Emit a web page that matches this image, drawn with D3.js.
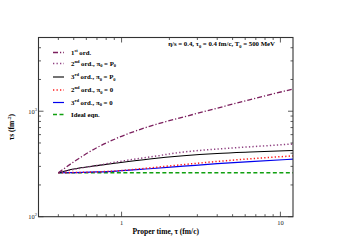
<!DOCTYPE html>
<html>
<head>
<meta charset="utf-8">
<script src="https://cdn.jsdelivr.net/npm/d3@7"></script>
<style>
  body { margin: 0; background: #fff; }
  text { font-family: "Liberation Serif", "DejaVu Serif", serif; }
</style>
</head>
<body>
<div id="chart"></div>
<script>
// data (tau in fm/c, tau*s in fm^-2)
const tau = [0.4, 0.5, 0.7, 0.93, 1.5, 2.45, 4, 6.46, 12]
const firstOrd   = [261, 331, 452, 553, 719, 881, 1070, 1288, 1625]
const secondP0   = [261, 281, 306, 330, 368, 410, 438, 460, 489]
const thirdP0    = [261, 283, 305, 323, 353, 378, 397, 410, 424]
const second0    = [261, 262, 266, 272, 290, 312, 334, 354, 377]
const third0     = [261, 262, 266, 271, 285, 301, 318, 333, 351]
const ideal      = [261, 261, 261, 261, 261, 261, 261, 261, 261]

const xMajor = [1, 10]
const xMinor = [0.3, 0.4, 0.5, 0.6, 0.7, 0.8, 0.9, 2, 3, 4, 5, 6, 7, 8, 9]
const yMajor = [100, 1000]
const yMinor = [200, 300, 400, 500, 600, 700, 800, 900, 2000, 3000, 4000]

const series = [
  { name: ['1', 'st', ' ord.', '', ''], values: firstOrd, color: '#7b1f5e', dash: '5,2,1.2,2', w: 1.3 },
  { name: ['2', 'nd', ' ord., π', '0', ' = P', '0'], values: secondP0, color: '#8e3f80', dash: '1.3,2.2', w: 1.5 },
  { name: ['3', 'rd', ' ord., π', '0', ' = P', '0'], values: thirdP0, color: '#000000', dash: null, w: 1.1 },
  { name: ['2', 'nd', ' ord., π', '0', ' = 0'], values: second0, color: '#ff1a1a', dash: '1.3,2.2', w: 1.5 },
  { name: ['3', 'rd', ' ord., π', '0', ' = 0'], values: third0, color: '#0000ee', dash: null, w: 1.2 },
  { name: ['Ideal eqn.'], values: ideal, color: '#10a010', dash: '4,2.5', w: 1.4 }
]

let width = 351, height = 248
let plot = { left: 38.5, right: 293, top: 37.5, bottom: 216.7 }

let svg = d3.select('#chart').append('svg')
    .attr('width', width)
    .attr('height', height)

let x = d3.scaleLog().domain([0.3, 12]).range([plot.left, plot.right])
let y = d3.scaleLog().domain([100, 5000]).range([plot.bottom, plot.top])

// curves
let line = d3.line()
    .x(d => x(d[0]))
    .y(d => y(d[1]))
    .curve(d3.curveMonotoneX)

// draw ideal first so others sit on top
series.slice().reverse().forEach(s => {
    svg.append('path')
        .datum(tau.map((t, i) => [t, s.values[i]]))
        .attr('d', line)
        .attr('fill', 'none')
        .attr('stroke', s.color)
        .attr('stroke-width', s.w)
        .attr('stroke-dasharray', s.dash)
})

// frame
svg.append('rect')
    .attr('x', plot.left).attr('y', plot.top)
    .attr('width', plot.right - plot.left)
    .attr('height', plot.bottom - plot.top)
    .attr('fill', 'none')
    .attr('stroke', '#333')
    .attr('stroke-width', 1.1)

// ticks, pointing inward on all four sides
let ticks = svg.append('g').attr('stroke', '#333').attr('stroke-width', 0.8)
function xTick(v, len) {
    ticks.append('line').attr('x1', x(v)).attr('x2', x(v)).attr('y1', plot.bottom).attr('y2', plot.bottom - len)
    ticks.append('line').attr('x1', x(v)).attr('x2', x(v)).attr('y1', plot.top).attr('y2', plot.top + len)
}
function yTick(v, len) {
    ticks.append('line').attr('y1', y(v)).attr('y2', y(v)).attr('x1', plot.left).attr('x2', plot.left + len)
    ticks.append('line').attr('y1', y(v)).attr('y2', y(v)).attr('x1', plot.right).attr('x2', plot.right - len)
}
xMajor.forEach(v => xTick(v, 5))
xMinor.forEach(v => xTick(v, 2.5))
yMajor.forEach(v => yTick(v, 5))
yMinor.forEach(v => yTick(v, 2.5))

// x tick labels
svg.selectAll('.xlab').data(xMajor).enter().append('text')
    .attr('x', d => x(d))
    .attr('y', plot.bottom + 8)
    .attr('text-anchor', 'middle')
    .attr('font-size', 6.5)
    .attr('fill', '#222')
    .text(d => d)

// y tick labels 10^n
yMajor.forEach(v => {
    let t = svg.append('text')
        .attr('x', plot.left - 1.5)
        .attr('y', y(v) + 2.5)
        .attr('text-anchor', 'end')
        .attr('font-size', 6.5)
        .attr('fill', '#222')
    t.append('tspan').text('10')
    t.append('tspan').attr('dy', -3).attr('font-size', 4.5).text(Math.round(Math.log10(v)))
})

// axis titles
svg.append('text')
    .attr('x', (plot.left + plot.right) / 2)
    .attr('y', plot.bottom + 17)
    .attr('text-anchor', 'middle')
    .attr('font-size', 7.5)
    .attr('font-weight', 'bold')
    .text('Proper time, τ (fm/c)')

let yt = svg.append('text')
    .attr('transform', `translate(14,${(plot.top + plot.bottom) / 2}) rotate(-90)`)
    .attr('text-anchor', 'middle')
    .attr('font-size', 7.5)
    .attr('font-weight', 'bold')
yt.append('tspan').text('τs (fm')
yt.append('tspan').attr('dy', -3).attr('font-size', 5).text('-2')
yt.append('tspan').attr('dy', 3).text(')')

// annotation
let ann = svg.append('text')
    .attr('x', 275)
    .attr('y', 46)
    .attr('text-anchor', 'end')
    .attr('font-size', 6.8)
    .attr('font-weight', 'bold')
ann.append('tspan').text('η/s = 0.4, τ')
ann.append('tspan').attr('dy', 1.5).attr('font-size', 4.5).text('0')
ann.append('tspan').attr('dy', -1.5).text(' = 0.4 fm/c, T')
ann.append('tspan').attr('dy', 1.5).attr('font-size', 4.5).text('0')
ann.append('tspan').attr('dy', -1.5).text(' = 500 MeV')

// legend
let legY = [52.5, 63.5, 77, 90, 102.5, 114.5]
series.forEach((s, i) => {
    let ly = legY[i]
    svg.append('line')
        .attr('x1', 53).attr('x2', 64)
        .attr('y1', ly).attr('y2', ly)
        .attr('stroke', s.color)
        .attr('stroke-width', s.w)
        .attr('stroke-dasharray', s.dash)
    let t = svg.append('text')
        .attr('x', 71)
        .attr('y', ly + 2.3)
        .attr('font-size', 6.8)
        .attr('font-weight', 'bold')
    let parts = s.name
    if (parts.length === 1) { t.text(parts[0]); return }
    t.append('tspan').text(parts[0])
    t.append('tspan').attr('dy', -3).attr('font-size', 4.5).text(parts[1])
    t.append('tspan').attr('dy', 3).text(parts[2])
    if (parts[3]) {
        t.append('tspan').attr('dy', 1.5).attr('font-size', 4.5).text(parts[3])
        t.append('tspan').attr('dy', -1.5).text(parts[4])
    }
    if (parts[5]) {
        t.append('tspan').attr('dy', 1.5).attr('font-size', 4.5).text(parts[5])
    }
})
</script>
</body>
</html>
